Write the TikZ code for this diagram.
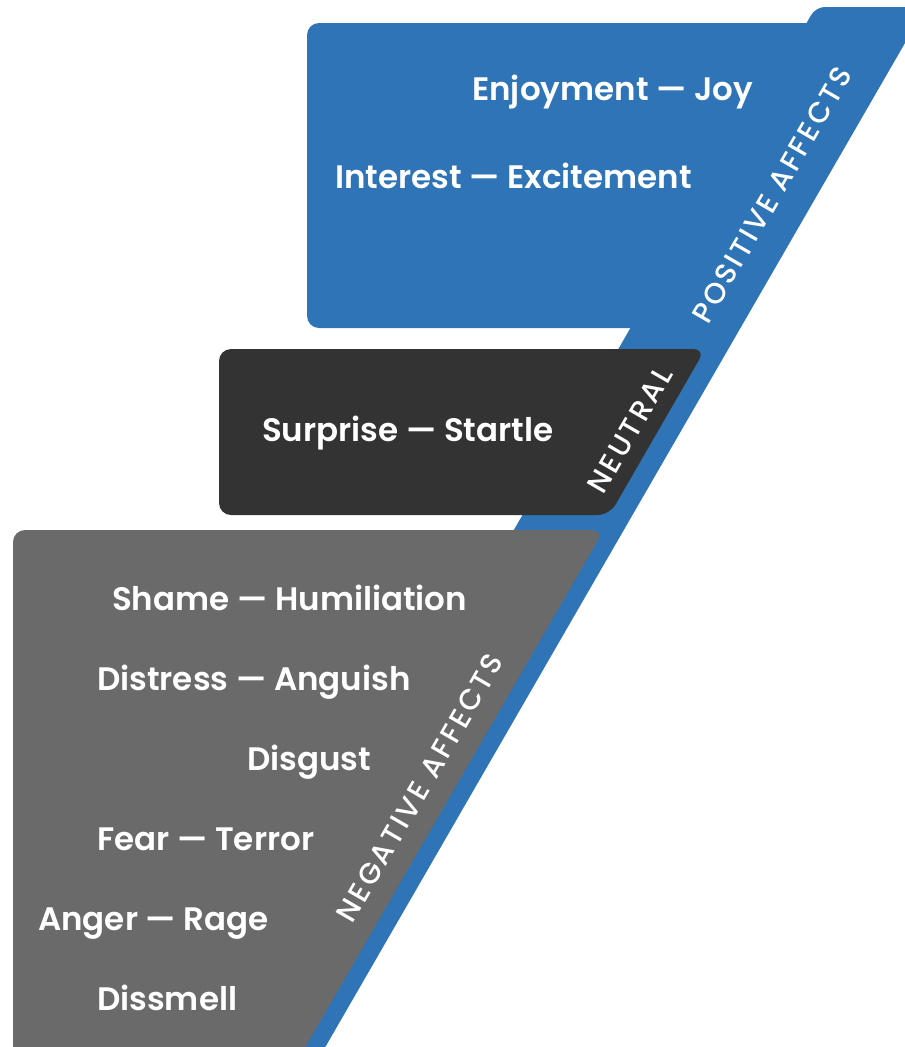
\documentclass[tikz,border=0pt]{standalone}
\usepackage{fontspec}
\newfontfamily\itemfont{Poppins SemiBold}
\newfontfamily\sidefont{Poppins Medium}[LetterSpace=9]
\definecolor{bandblue}{RGB}{46,116,182}
\definecolor{neutraldark}{RGB}{51,51,51}
\definecolor{neggray}{RGB}{106,106,106}
\tikzset{
  item/.style={anchor=base west, inner sep=0pt, text=white, font=\itemfont\fontsize{32.5}{38}\selectfont},
  sidelabel/.style={inner sep=0pt, text=white, rotate=60, font=\sidefont\fontsize{29}{34}\selectfont},
}
\begin{document}
\begin{tikzpicture}[x=1pt,y=1pt]
\useasboundingbox (0,0) rectangle (905,-1047);
\clip (0,0) rectangle (905,-1047);
% diagonal band
\fill[bandblue, rounded corners=9pt] (184.7,-1100) -- (815.8,-7) -- (925.8,-7) -- (294.7,-1100) -- cycle;
% positive box
\fill[bandblue, rounded corners=12pt] (307,-23) -- (880,-23) -- (700,-328) -- (307,-328) -- cycle;
% neutral box
\fill[neutraldark, rounded corners=12pt] (219,-349) -- (705.3,-349) -- (609.5,-515) -- (219,-515) -- cycle;
% negative box
\fill[neggray, rounded corners=12pt] (13,-530) -- (603.8,-530) -- (274.7,-1100) -- (13,-1100) -- cycle;
% texts
\node[item] (joy) at (472,-100) {Enjoyment — Joy};
\node[item] (exc) at (335,-188) {Interest — Excitement};
\node[item] (sur) at (262,-441) {Surprise — Startle};
\node[item] (sha) at (112,-610) {Shame — Humiliation};
\node[item] (dis) at (97,-690) {Distress — Anguish};
\node[item] (dgu) at (247,-770) {Disgust};
\node[item] (fea) at (97,-850) {Fear — Terror};
\node[item] (ang) at (38,-930) {Anger — Rage};
\node[item] (dsm) at (97,-1010) {Dissmell};
\node[sidelabel] (pos) at (772,-195) {POSITIVE AFFECTS};
\node[sidelabel] (neu) at (630,-430) {NEUTRAL};
\node[sidelabel] (neg) at (420,-788) {NEGATIVE AFFECTS};
\end{tikzpicture}
\end{document}
